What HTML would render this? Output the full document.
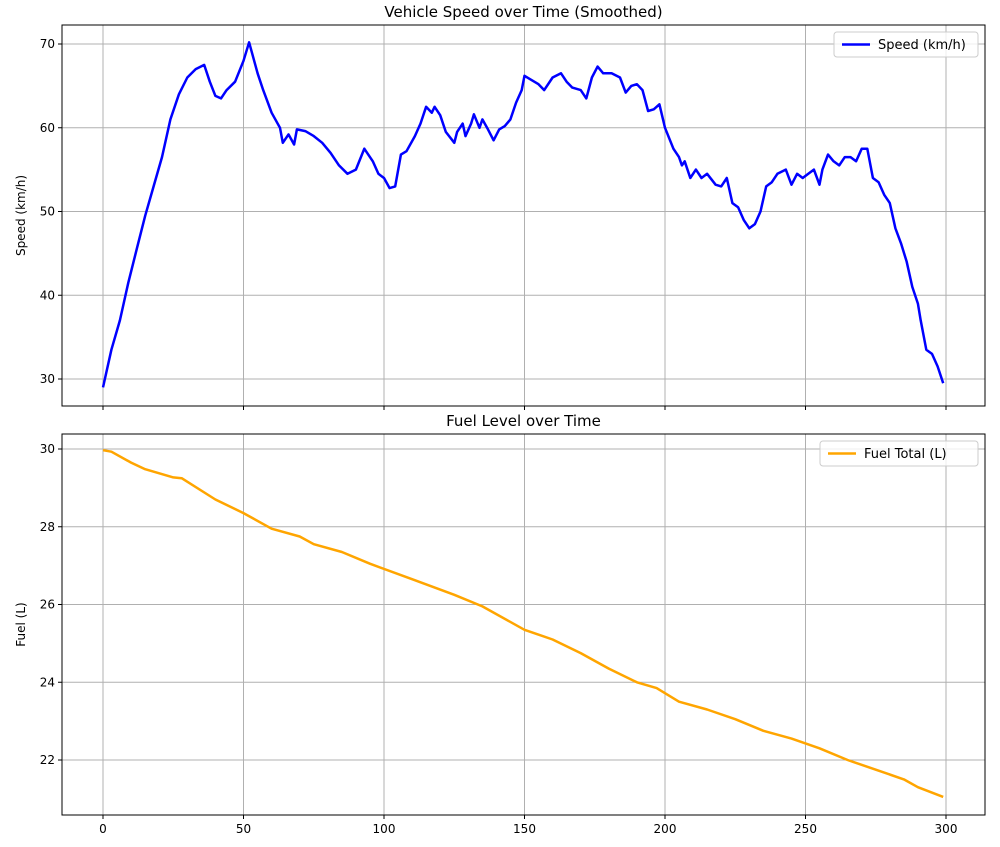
<!DOCTYPE html>
<html><head><meta charset="utf-8"><style>
body{margin:0;background:#fff;font-family:"Liberation Sans","DejaVu Sans",sans-serif;}
svg text{font-family:"DejaVu Sans","Liberation Sans",sans-serif;}
</style></head><body>
<svg id="c" width="1000" height="842" xmlns="http://www.w3.org/2000/svg"></svg>
<script>
const speedT=[0,3,6,9,12,15,18,21,24,27,30,33,36,38,40,42,44,47,50,52,55,57,60,63,64,66,68,69,72,75,78,81,84,87,90,93,96,98,100,102,104,106,108,111,113,115,117,118,120,122,125,126,128,129,131,132,134,135,137,139,141,143,145,147,149,150,152,155,157,160,163,165,167,170,172,174,176,178,181,184,186,188,190,192,194,196,198,200,203,205,206,207,209,211,213,215,218,220,222,224,226,228,230,232,234,236,238,240,243,245,247,249,251,253,255,256,258,260,262,264,266,268,270,272,274,276,278,280,282,284,286,288,290,291,293,295,297,299];
const speedV=[29,33.5,37,41.5,45.5,49.5,53,56.5,61,64,66,67,67.5,65.5,63.8,63.5,64.5,65.5,68,70.2,66.5,64.5,61.8,60,58.2,59.2,58,59.8,59.6,59,58.2,57,55.5,54.5,55,57.5,56,54.5,54,52.8,53,56.8,57.2,59,60.5,62.5,61.8,62.5,61.5,59.5,58.2,59.5,60.5,59,60.5,61.6,60,61,59.8,58.5,59.8,60.2,61,63,64.5,66.2,65.8,65.2,64.5,66,66.5,65.5,64.8,64.5,63.5,66,67.3,66.5,66.5,66,64.2,65,65.2,64.5,62,62.2,62.8,60,57.5,56.5,55.5,56,54,55,54,54.5,53.2,53,54,51,50.5,49,48,48.5,50,53,53.5,54.5,55,53.2,54.5,54,54.5,55,53.2,55,56.8,56,55.5,56.5,56.5,56,57.5,57.5,54,53.5,52,51,48,46.2,44,41,39,37,33.5,33,31.5,29.5];
const fuelT=[0,3,10,15,25,28,40,50,60,70,75,85,95,110,125,135,150,160,170,180,190,197,205,215,225,235,245,255,265,275,285,290,299];
const fuelV=[29.97,29.93,29.65,29.48,29.27,29.25,28.7,28.35,27.95,27.75,27.55,27.35,27.05,26.65,26.25,25.95,25.35,25.1,24.75,24.35,24.0,23.85,23.5,23.3,23.05,22.75,22.55,22.3,22.0,21.75,21.5,21.3,21.05];
const xTicks=[0,50,100,150,200,250,300];
const speedTicks=[30,40,50,60,70];
const fuelTicks=[22,24,26,28,30];

const svg=document.getElementById('c');
const NS='http://www.w3.org/2000/svg';
function mk(tag,attrs,parent){const e=document.createElementNS(NS,tag);for(const k in attrs)e.setAttribute(k,attrs[k]);(parent||svg).appendChild(e);return e;}
const L=62,R=985;
const xs=t=>103+(t-0)*(946-103)/300;
function panel(top,bot,yFn,ticks,T,V,color,title,ylabel,legend,showX,name){
  const g=mk('g',{});
  
  
  xTicks.forEach(t=>{const x=xs(t);if(x>R)return;
    const l=mk('line',{x1:x,x2:x,y1:top,y2:bot,stroke:'#b0b0b0','stroke-width':1},g);
    
    mk('line',{x1:x,x2:x,y1:bot,y2:bot+4,stroke:'#000'},g);
    if(showX){const tx=mk('text',{x:x,y:bot+18,'font-size':12,'text-anchor':'middle'},g);tx.textContent=t;
      }
  });
  ticks.forEach(v=>{const y=yFn(v);
    const l=mk('line',{x1:L,x2:R,y1:y,y2:y,stroke:'#b0b0b0','stroke-width':1},g);
    
    mk('line',{x1:L-4,x2:L,y1:y,y2:y,stroke:'#000'},g);
    const tx=mk('text',{x:L-7,y:y+4,'font-size':12,'text-anchor':'end'},g);tx.textContent=v;
    
  });
  const d=T.map((t,i)=>(i?'L':'M')+xs(t).toFixed(1)+','+yFn(V[i]).toFixed(1)).join('');
  const p=mk('path',{d:d,fill:'none',stroke:color,'stroke-width':2.5,'stroke-linejoin':'round'},g);
  
  const fr=mk('rect',{x:L,y:top,width:R-L,height:bot-top,fill:'none',stroke:'#000','stroke-width':1},g);
  
  const ti=mk('text',{x:(L+R)/2,y:top-8,'font-size':15,'text-anchor':'middle'},g);ti.textContent=title;
  
  const yl=mk('text',{x:0,y:0,'font-size':12,'text-anchor':'middle',transform:`translate(25,${(top+bot)/2}) rotate(-90)`},g);yl.textContent=ylabel;
  
  const lw=legend.length*7+60, lx=R-7-lw, ly=top+7;
  const lg=mk('g',{},g);
  
  mk('rect',{x:lx,y:ly,width:lw,height:25,rx:3,fill:'#fff','fill-opacity':0.8,stroke:'#ccc'},lg);
  mk('line',{x1:lx+8,x2:lx+36,y1:ly+12.5,y2:ly+12.5,stroke:color,'stroke-width':2.5},lg);
  const lt=mk('text',{x:lx+44,y:ly+17,'font-size':13},lg);lt.textContent=legend;
}
panel(25,406,v=>44+(70-v)*8.375,speedTicks,speedT,speedV,'#0000ff','Vehicle Speed over Time (Smoothed)','Speed (km/h)','Speed (km/h)',false,'speed');
panel(434,815,v=>449+(30-v)*38.875,fuelTicks,fuelT,fuelV,'#ffa500','Fuel Level over Time','Fuel (L)','Fuel Total (L)',true,'fuel');
</script>
</body></html>
